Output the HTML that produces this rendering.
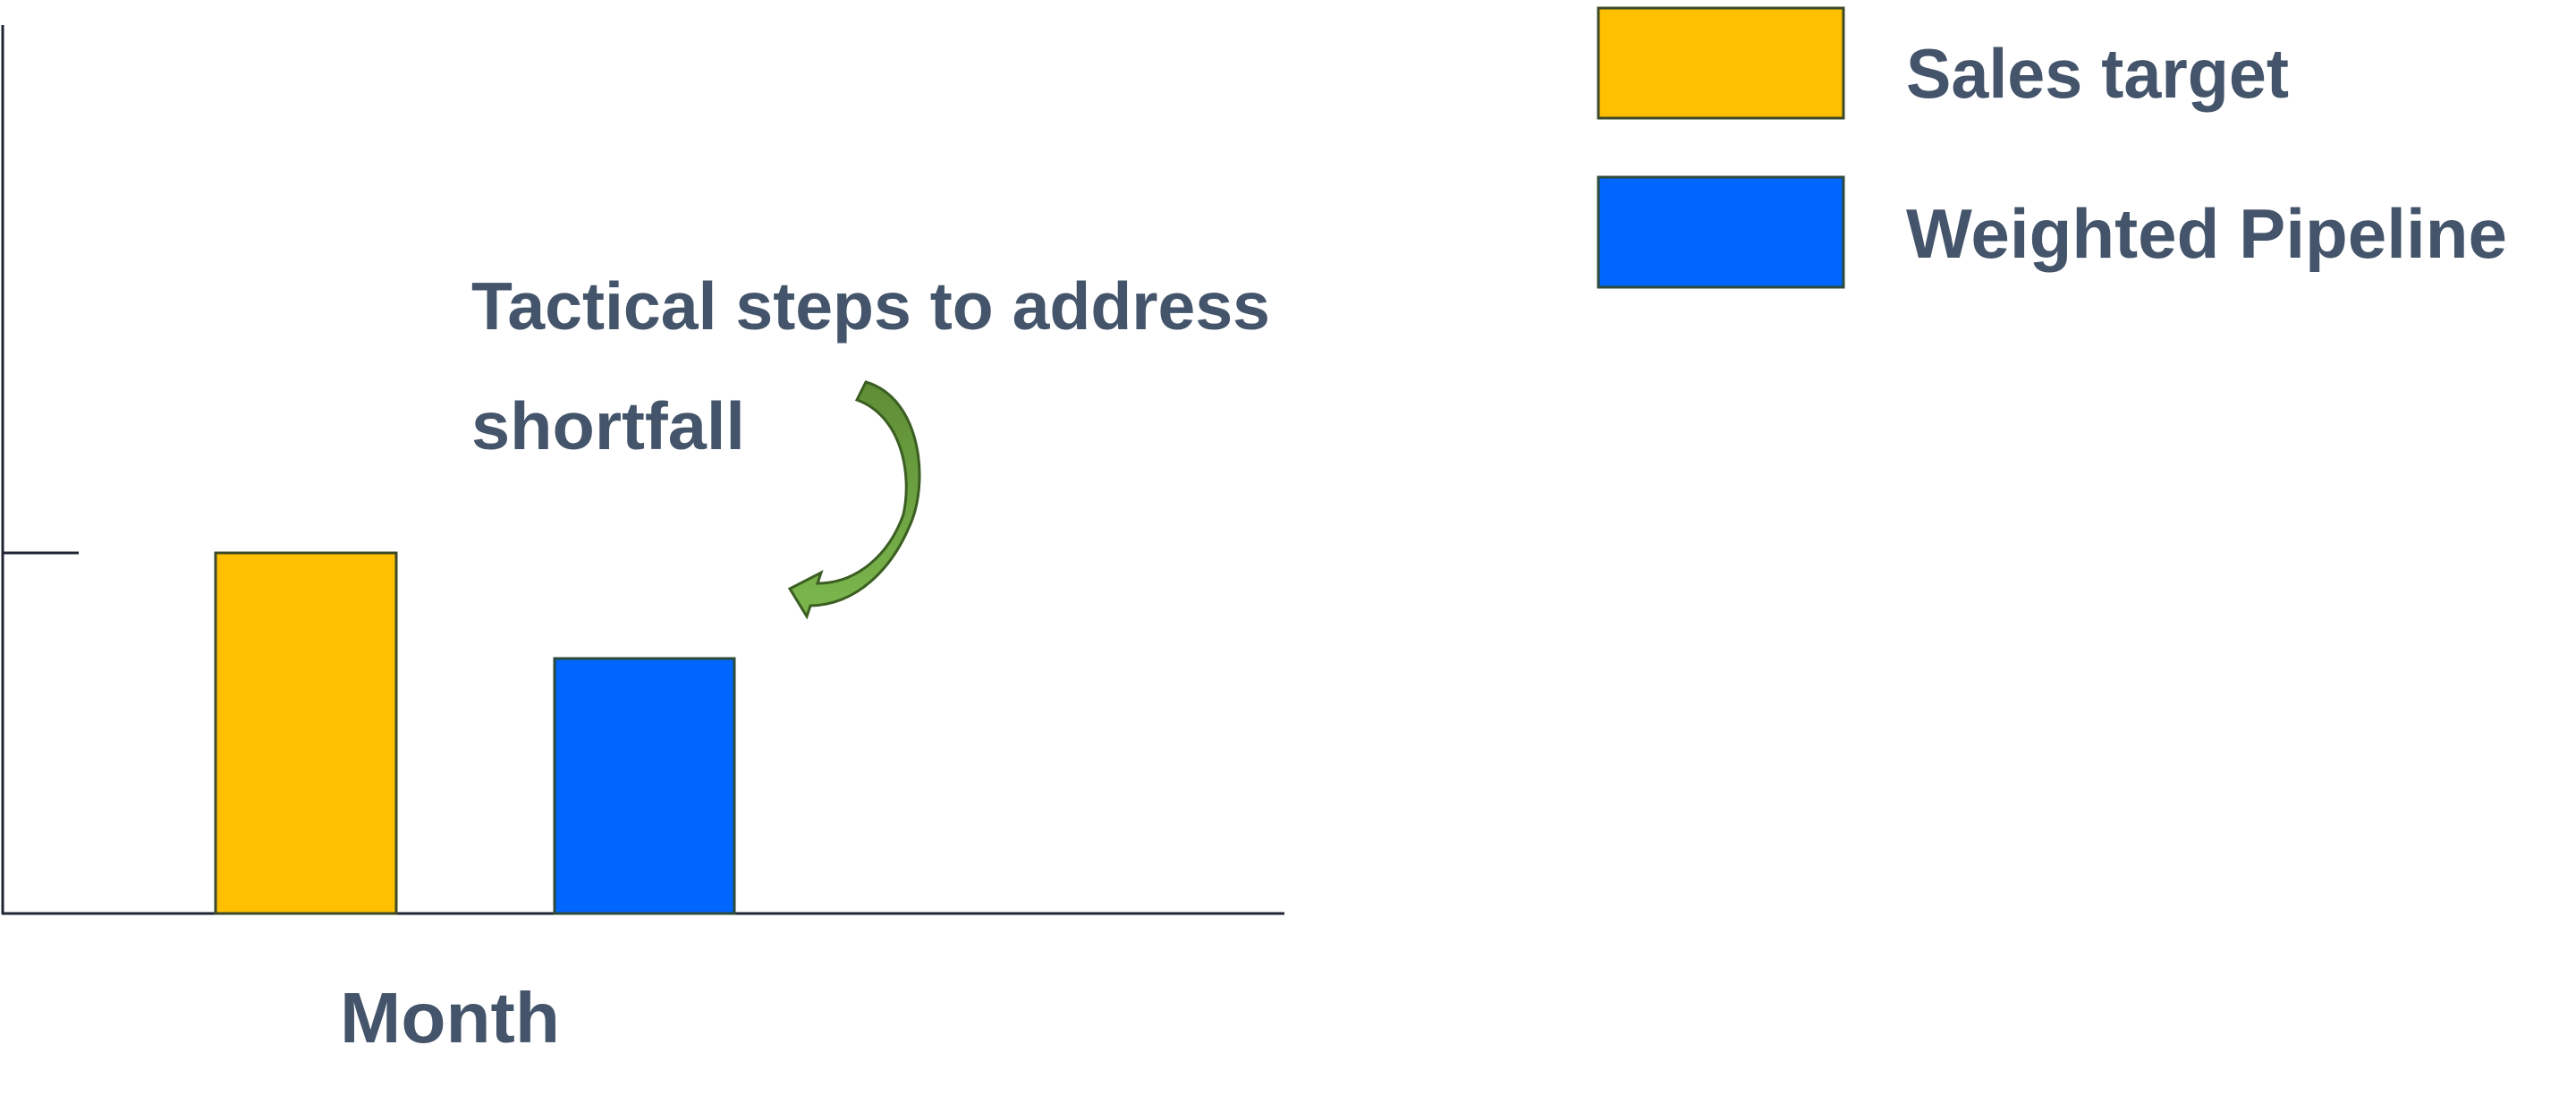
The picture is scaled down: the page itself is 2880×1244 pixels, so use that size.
<!DOCTYPE html>
<html><head><meta charset="utf-8"><style>
html,body{margin:0;padding:0;background:#fff;}
svg{display:block;}
text{font-family:"Liberation Sans",sans-serif;font-weight:bold;fill:#44546a;}
</style></head><body>
<svg width="2880" height="1244" viewBox="0 0 2880 1244" xmlns="http://www.w3.org/2000/svg">
<defs>
<linearGradient id="g" x1="0" y1="0" x2="0" y2="1">
<stop offset="0" stop-color="#5e8c36"/><stop offset="1" stop-color="#7cb84e"/>
</linearGradient>
</defs>
<line x1="3" y1="28" x2="3" y2="1022" stroke="#1f2533" stroke-width="3"/>
<line x1="2" y1="1021" x2="1436" y2="1021" stroke="#1f2533" stroke-width="3"/>
<line x1="3" y1="618" x2="88" y2="618" stroke="#1f2533" stroke-width="3"/>
<rect x="241" y="618" width="202" height="403" fill="#ffc000" stroke="#3d4a2a" stroke-width="3"/>
<rect x="620" y="736" width="201" height="285" fill="#0066ff" stroke="#2d4a3a" stroke-width="3"/>
<rect x="1787" y="9" width="274" height="123" fill="#ffc000" stroke="#3d4a2a" stroke-width="3"/>
<rect x="1787" y="198" width="274" height="123" fill="#0066ff" stroke="#2d4a3a" stroke-width="3"/>
<text x="2131" y="109" font-size="78" textLength="428" lengthAdjust="spacingAndGlyphs">Sales target</text>
<text x="2131" y="288" font-size="78" textLength="672" lengthAdjust="spacingAndGlyphs">Weighted Pipeline</text>
<text x="527" y="368" font-size="75" textLength="893" lengthAdjust="spacingAndGlyphs">Tactical steps to address</text>
<text x="527" y="502" font-size="75" textLength="306" lengthAdjust="spacingAndGlyphs">shortfall</text>
<text x="380" y="1165" font-size="80" textLength="246" lengthAdjust="spacingAndGlyphs">Month</text>
<path d="M968,427 C1030,445 1040,540 1016,590 C996,636 958,676 906,677 L902,689 L883,658 L918,640 L914,652 C958,652 994,620 1010,575 C1020,530 1008,465 958,447 Z" fill="url(#g)" stroke="#3b5e22" stroke-width="3" stroke-linejoin="miter"/>
</svg>
</body></html>
